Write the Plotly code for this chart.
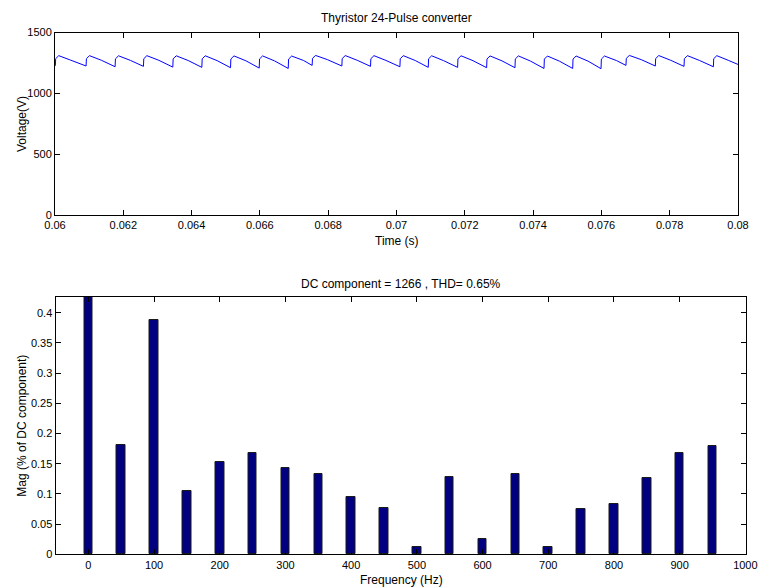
import plotly.graph_objects as go

W, H = 758, 587

# ---- Top plot data: vertices of the 24-pulse voltage waveform
jump_times = [0.06001, 0.06091, 0.06176, 0.06259, 0.06345, 0.06430, 0.06514, 0.06598,
              0.06683, 0.06753, 0.06840, 0.06924, 0.07010, 0.07093, 0.07179, 0.07264,
              0.07347, 0.07432, 0.07516, 0.07599, 0.07672, 0.07758, 0.07842, 0.07928]
trough_v = [1228, 1225, 1219, 1222, 1216, 1214, 1211, 1208,
            1205, 1230, 1225, 1222, 1219, 1214, 1214, 1211,
            1211, 1205, 1205, 1203, 1230, 1225, 1222, 1219]
after_jump_v = [1285, 1285, 1284, 1285, 1284, 1284, 1283, 1283,
                1282, 1288, 1286, 1285, 1285, 1284, 1284, 1283,
                1283, 1282, 1282, 1282, 1288, 1286, 1285, 1285]
peak_v = [1310, 1310, 1309, 1310, 1309, 1309, 1308, 1308,
          1307, 1312, 1311, 1310, 1310, 1309, 1309, 1308,
          1308, 1307, 1307, 1307, 1312, 1311, 1310, 1310]
mid_v = [1273, 1272, 1271, 1272, 1270, 1269, 1268, 1267,
         1270, 1277, 1272, 1271, 1270, 1269, 1269, 1267,
         1266, 1265, 1265, 1270, 1277, 1272, 1271, 1270]
end_time, end_v = 0.08, 1238

rise_dt, peak_dt, mid_dt = 0.00001, 0.00010, 0.00045

time_s, volt_v = [], []
for k, tj in enumerate(jump_times):
    time_s += [tj, tj + rise_dt, tj + peak_dt, tj + mid_dt]
    volt_v += [trough_v[k], after_jump_v[k], peak_v[k], mid_v[k]]
time_s.insert(0, 0.06)
volt_v.insert(0, trough_v[0])
time_s.append(end_time)
volt_v.append(end_v)

time_ticks = [0.06, 0.062, 0.064, 0.066, 0.068, 0.07, 0.072, 0.074, 0.076, 0.078, 0.08]
time_tick_text = ["0.06", "0.062", "0.064", "0.066", "0.068", "0.07", "0.072",
                  "0.074", "0.076", "0.078", "0.08"]
volt_ticks = [0, 500, 1000, 1500]

# ---- Bottom plot data: harmonic spectrum
freq_hz = [0, 50, 100, 150, 200, 250, 300, 350, 400, 450,
           500, 550, 600, 650, 700, 750, 800, 850, 900, 950]
mag_pct = [0.43, 0.181, 0.388, 0.104, 0.152, 0.167, 0.143, 0.133, 0.095, 0.077,
           0.012, 0.128, 0.025, 0.133, 0.012, 0.075, 0.084, 0.127, 0.167, 0.180]
freq_ticks = [0, 100, 200, 300, 400, 500, 600, 700, 800, 900, 1000]
freq_tick_text = ["0", "100", "200", "300", "400", "500", "600", "700", "800", "900", "1000"]
mag_ticks = [0, 0.05, 0.1, 0.15, 0.2, 0.25, 0.3, 0.35, 0.4]
mag_tick_text = ["0", "0.05", "0.1", "0.15", "0.2", "0.25", "0.3", "0.35", "0.4"]

FONT = "Liberation Sans, Arial, Helvetica, sans-serif"
FS = 12
TICK_FS = 11
TXT = "#000000"

def px_x(p):
    return p / W

def px_y(p):
    return 1 - p / H

fig = go.Figure()
fig.add_trace(go.Scatter(x=time_s, y=volt_v, mode="lines",
                         line=dict(color="#0000FF", width=1),
                         xaxis="x", yaxis="y", showlegend=False))
fig.add_trace(go.Bar(x=freq_hz, y=mag_pct, width=13,
                     marker=dict(color="#000080", line=dict(color="#1a1a1a", width=1)),
                     xaxis="x2", yaxis="y2", showlegend=False))

axis_common = dict(showline=True, linecolor="#000000", linewidth=1, mirror="ticks",
                   ticks="inside", ticklen=5, tickcolor="#000000", showgrid=False,
                   zeroline=False, automargin=False, ticklabeloverflow="allow",
                   tickfont=dict(family=FONT, size=TICK_FS, color=TXT))

fig.update_layout(
    width=W, height=H,
    margin=dict(l=0, r=0, t=0, b=0, autoexpand=False),
    paper_bgcolor="white", plot_bgcolor="white",
    font=dict(family=FONT, size=FS, color=TXT),
    bargap=0,
    xaxis=dict(domain=[px_x(55), px_x(738)], anchor="y", range=[0.06, 0.080001],
               tickvals=time_ticks, ticktext=time_tick_text, **axis_common),
    yaxis=dict(domain=[px_y(215), px_y(32.5)], anchor="x", range=[0, 1500.5],
               tickvals=volt_ticks, **axis_common),
    xaxis2=dict(domain=[px_x(55.5), px_x(745.5)], anchor="y2", range=[-50, 1000.2],
                tickvals=freq_ticks, ticktext=freq_tick_text, **axis_common),
    yaxis2=dict(domain=[px_y(554.3), px_y(297)], anchor="x2", range=[0, 0.426],
                tickvals=mag_ticks, ticktext=mag_tick_text, **axis_common),
    annotations=[
        dict(text="Thyristor 24-Pulse converter", x=px_x(396.5), y=px_y(18.5),
             xref="paper", yref="paper", showarrow=False, xanchor="center", yanchor="middle"),
        dict(text="Time (s)", x=px_x(396.5), y=px_y(241), xref="paper", yref="paper",
             showarrow=False, xanchor="center", yanchor="middle"),
        dict(text="Voltage(V)", x=px_x(22), y=px_y(124), xref="paper", yref="paper",
             showarrow=False, xanchor="center", yanchor="middle", textangle=-90),
        dict(text="DC component = 1266 , THD= 0.65%", x=px_x(400.5), y=px_y(284),
             xref="paper", yref="paper", showarrow=False, xanchor="center", yanchor="middle"),
        dict(text="Frequency (Hz)", x=px_x(401), y=px_y(580), xref="paper", yref="paper",
             showarrow=False, xanchor="center", yanchor="middle"),
        dict(text="Mag (% of DC component)", x=px_x(22), y=px_y(425.7), xref="paper",
             yref="paper", showarrow=False, xanchor="center", yanchor="middle", textangle=-90),
    ],
)

fig.write_html("out.html", config={"displayModeBar": False},
               post_script="document.body.style.margin='0';document.body.style.overflow='hidden';")
